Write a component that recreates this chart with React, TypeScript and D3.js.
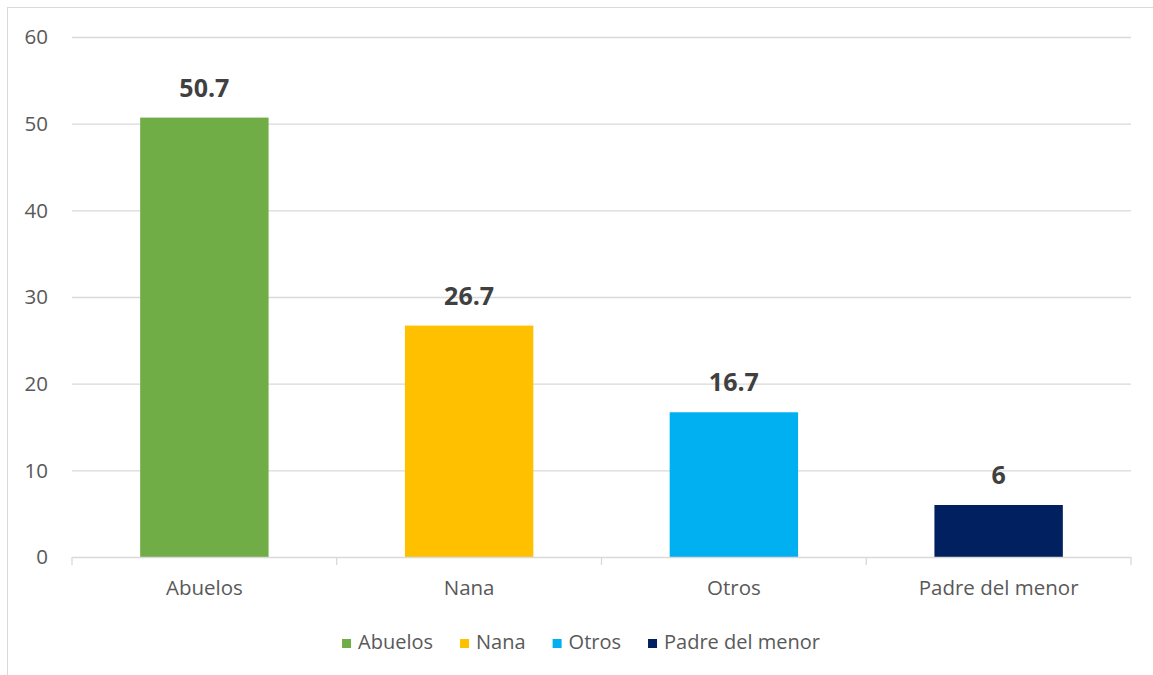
import * as d3 from 'd3'
import {useEffect, useRef} from "react";

const categories = ["Abuelos", "Nana", "Otros", "Padre del menor"];
const values = [50.7, 26.7, 16.7, 6];
const valueLabels = ["50.7", "26.7", "16.7", "6"];
const colors = ["#70AD47", "#FFC000", "#00B0F0", "#002060"];
const yTicks = [0, 10, 20, 30, 40, 50, 60];

const W = 1153, H = 675;
const FONT = "'Open Sans', 'Noto Sans', sans-serif";

export default function App() {
    const ref = useRef<SVGSVGElement>(null);

    useEffect(() => {
        const svg = d3.select(ref.current);
        svg.selectAll("*").remove();

        const margin = {top: 37, right: 22, bottom: 118, left: 72};
        const plotW = W - margin.left - margin.right;
        const plotH = H - margin.top - margin.bottom;

        // chart border
        svg.append("rect")
            .attr("x", 7.5).attr("y", 7.5)
            .attr("width", W + 10).attr("height", H + 10)
            .attr("fill", "white").attr("stroke", "#D9D9D9");

        const g = svg.append("g").attr("transform", `translate(${margin.left},${margin.top})`);

        const x = d3.scaleBand().domain(categories).range([0, plotW]).paddingInner(0.515).paddingOuter(0.2575);
        const y = d3.scaleLinear().domain([0, 60]).range([plotH, 0]);

        // gridlines
        g.selectAll(".grid").data(yTicks.filter(t => t > 0)).join("line")
            .attr("x1", 0).attr("x2", plotW)
            .attr("y1", d => y(d) + 0.5).attr("y2", d => y(d) + 0.5)
            .attr("stroke", "#D9D9D9").attr("stroke-width", 1.3);

        // y tick labels
        g.selectAll(".ylab").data(yTicks).join("text")
            .attr("x", -24).attr("y", d => y(d))
            .attr("dy", "0.35em")
            .attr("text-anchor", "end")
            .attr("font-family", FONT).attr("font-size", 20.5).attr("fill", "#595959")
            .text(d => d);

        // bars
        g.selectAll(".bar").data(values).join("rect")
            .attr("x", (d, i) => x(categories[i])!)
            .attr("y", d => y(d))
            .attr("width", x.bandwidth())
            .attr("height", d => plotH - y(d))
            .attr("fill", (d, i) => colors[i]);

        // value labels
        g.selectAll(".vlab").data(values).join("text")
            .attr("x", (d, i) => x(categories[i])! + x.bandwidth() / 2)
            .attr("y", d => y(d) - 21)
            .attr("text-anchor", "middle")
            .attr("font-family", FONT).attr("font-size", 25).attr("font-weight", 700).attr("fill", "#404040")
            .text((d, i) => valueLabels[i]);

        // x axis line and ticks
        g.append("line")
            .attr("x1", 0).attr("x2", plotW)
            .attr("y1", plotH + 0.5).attr("y2", plotH + 0.5)
            .attr("stroke", "#D9D9D9").attr("stroke-width", 1.3);
        const step = plotW / categories.length;
        g.selectAll(".xtick").data(d3.range(categories.length + 1)).join("line")
            .attr("x1", i => i * step).attr("x2", i => i * step)
            .attr("y1", plotH).attr("y2", plotH + 8)
            .attr("stroke", "#D9D9D9").attr("stroke-width", 1.3);

        // category labels
        g.selectAll(".xlab").data(categories).join("text")
            .attr("x", d => x(d)! + x.bandwidth() / 2)
            .attr("y", plotH + 38)
            .attr("text-anchor", "middle")
            .attr("font-family", FONT).attr("font-size", 20.5).attr("fill", "#595959")
            .text(d => d);

        // legend
        const legend = svg.append("g");
        const items = legend.selectAll("g").data(categories).join("g");
        items.append("rect")
            .attr("width", 9).attr("height", 9).attr("y", -10)
            .attr("fill", (d, i) => colors[i]);
        items.append("text")
            .attr("x", 16).attr("y", 0)
            .attr("font-family", FONT).attr("font-size", 20).attr("fill", "#595959")
            .text(d => d);
        let cx = 0;
        const gap = 27;
        items.each(function () {
            const el = d3.select(this);
            el.attr("transform", `translate(${cx},0)`);
            const tw = (el.select("text").node() as SVGTextElement).getComputedTextLength();
            cx += 16 + tw + gap;
        });
        const totalW = cx - gap;
        legend.attr("transform", `translate(${581 - totalW / 2},649)`);
    }, []);

    return (
        <svg ref={ref} width={W} height={H}
             style={{position: "absolute", left: 0, top: 0, background: "white"}}/>
    );
}
